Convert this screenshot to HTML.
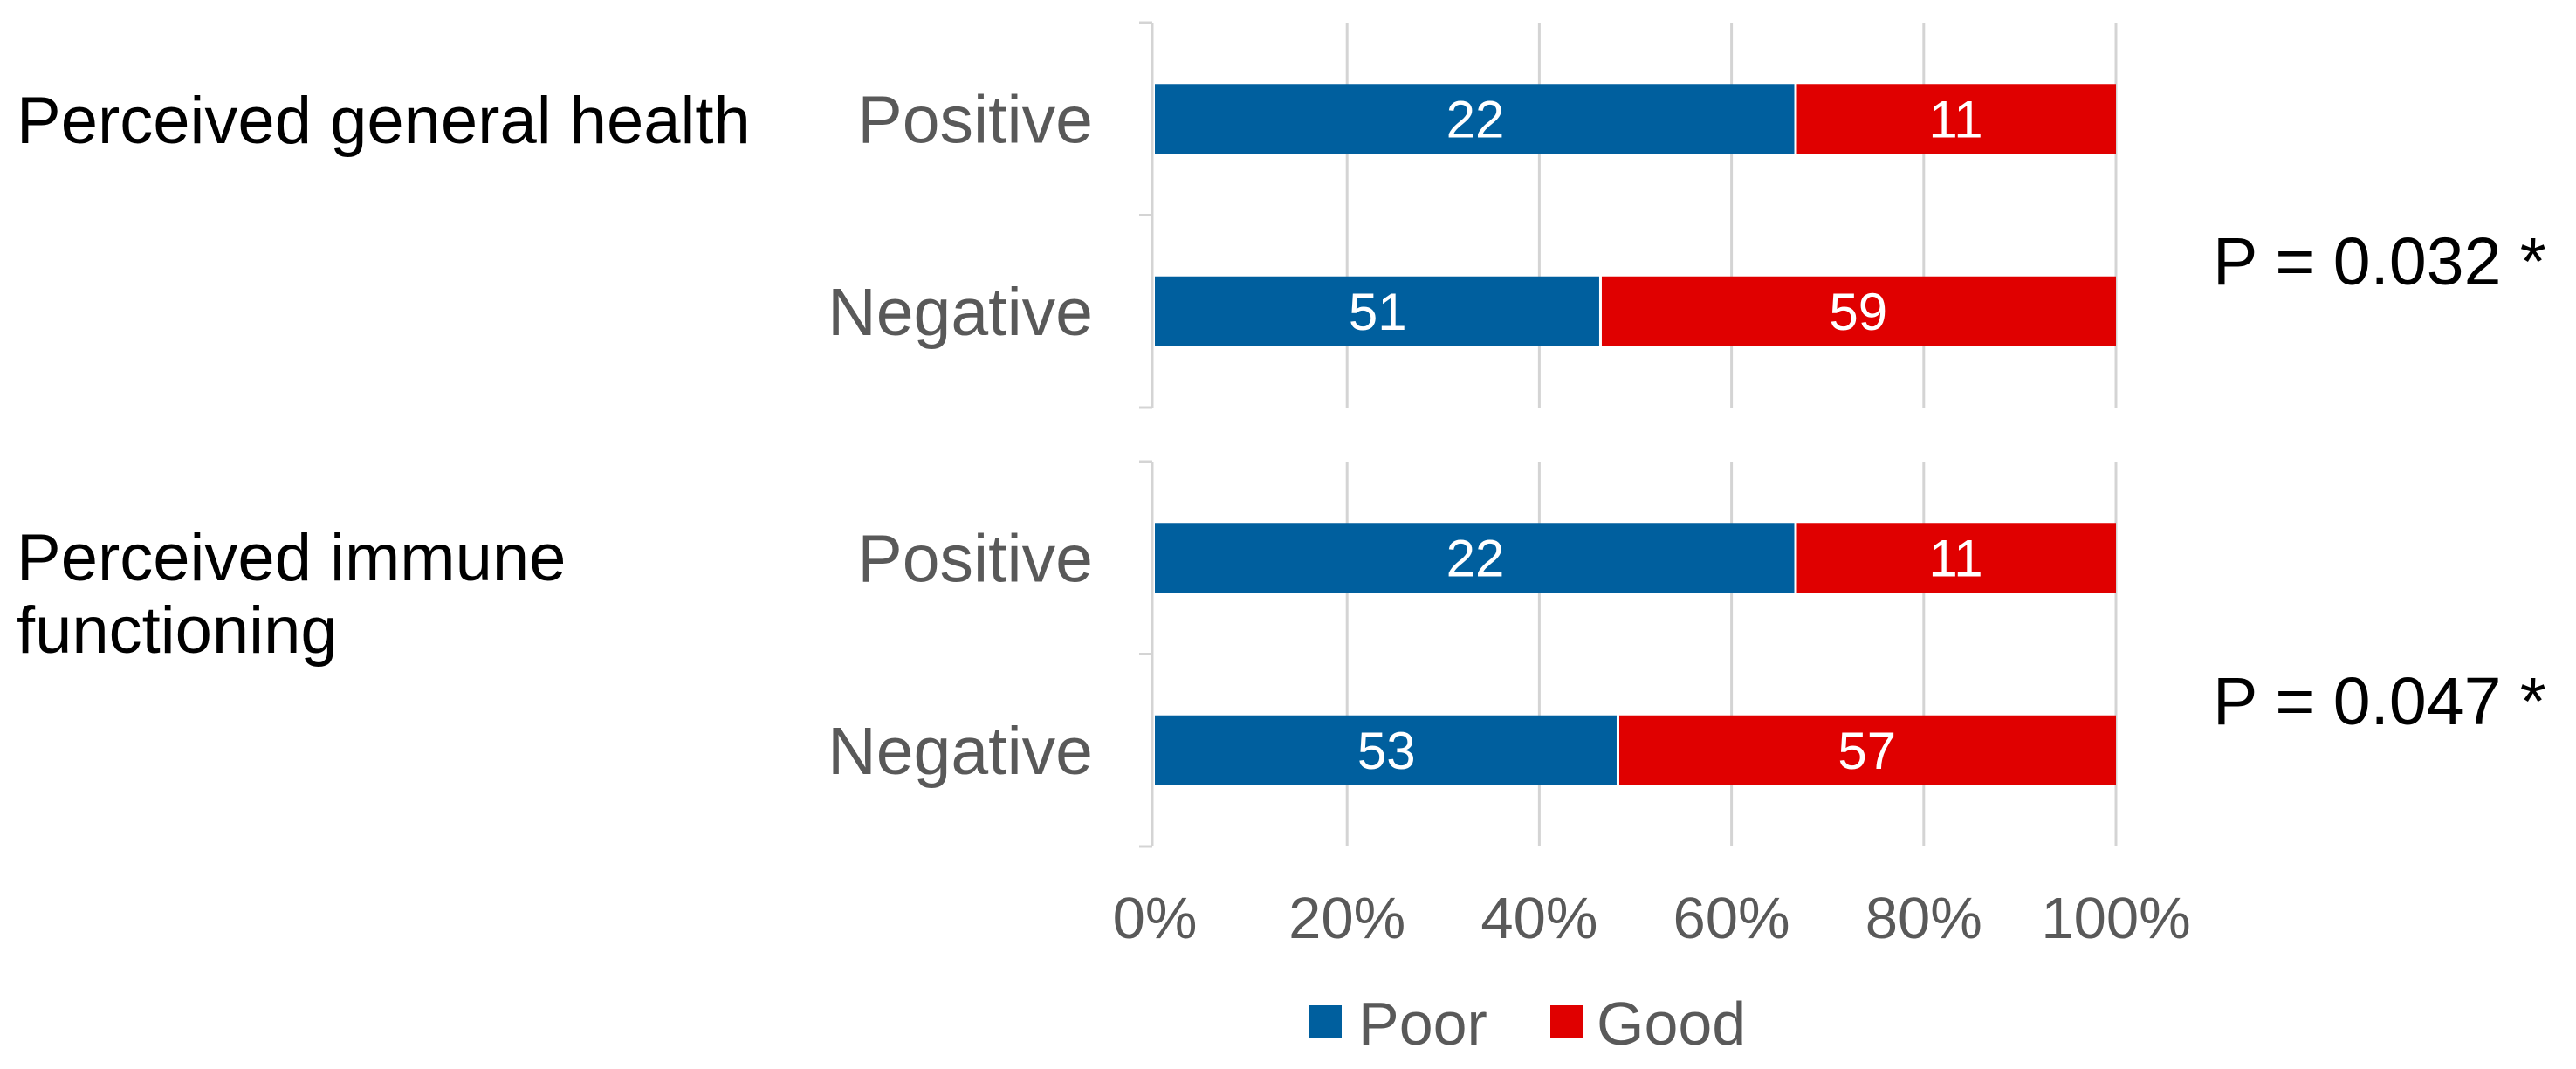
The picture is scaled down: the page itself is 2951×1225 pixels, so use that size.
<!DOCTYPE html>
<html><head><meta charset="utf-8"><style>
html,body{margin:0;padding:0;background:#fff;}
svg{display:block;font-family:"Liberation Sans",Arial,sans-serif;}
</style></head><body>
<svg id="chart" width="2951" height="1225" viewBox="0 0 2951 1225" xmlns="http://www.w3.org/2000/svg">
<g id="g"></g>
</svg>
<script>
const panels = ["Perceived general health", "Perceived immune functioning"];
const categories = ["Positive", "Negative", "Positive", "Negative"];
const poorValues = [22, 51, 22, 53];
const goodValues = [11, 59, 11, 57];
const pValues = ["P = 0.032 *", "P = 0.047 *"];
const xTicks = [0, 20, 40, 60, 80, 100];
const xTickLabels = ["0%", "20%", "40%", "60%", "80%", "100%"];

const NS = "http://www.w3.org/2000/svg";
const g = document.getElementById("g");
const X0 = 1323, X1 = 2424;
const xs = v => X0 + (X1 - X0) * v / 100;
const panelTop = [26, 529], panelH = 441;
const barH = 80;
const catY = i => panelTop[Math.floor(i/2)] + panelH/4 + (i%2) * panelH/2;

function el(tag, attrs, text){
  const e = document.createElementNS(NS, tag);
  for (const k in attrs) e.setAttribute(k, attrs[k]);
  if (text !== undefined) e.textContent = text;
  g.appendChild(e);
  return e;
}

panelTop.forEach((t, p) => {
  xTicks.forEach((v, j) => {
    if (j === 0) return;
    const l = el("line", {x1: xs(v), x2: xs(v), y1: t, y2: t + panelH, stroke: "#d4d4d4", "stroke-width": 3});
    
    
  });
  const ax = el("line", {x1: 1320, x2: 1320, y1: t, y2: t + panelH, stroke: "#d4d4d4", "stroke-width": 3});
  
  
  [0, 0.5, 1].forEach(f => {
    const tk = el("line", {x1: 1305, x2: 1320, y1: t + f * panelH, y2: t + f * panelH, stroke: "#d4d4d4", "stroke-width": 3});
    
    
  });
});

categories.forEach((c, i) => {
  const total = poorValues[i] + goodValues[i];
  const split = poorValues[i] / total * 100;
  const cy = catY(i);
  const b1 = el("rect", {x: xs(0), y: cy - barH/2, width: xs(split) - xs(0) - 1.5, height: barH, fill: "#005f9e"});
  
  
  const b2 = el("rect", {x: xs(split) + 1.5, y: cy - barH/2, width: xs(100) - xs(split) - 1.5, height: barH, fill: "#e00000"});
  
  
  const t1 = el("text", {x: (xs(0) + xs(split)) / 2, y: cy + 21, "font-size": 60, fill: "#fff", "text-anchor": "middle"}, poorValues[i]);
  
  
  const t2 = el("text", {x: (xs(split) + xs(100)) / 2, y: cy + 21, "font-size": 60, fill: "#fff", "text-anchor": "middle"}, goodValues[i]);
  
  
  const cl = el("text", {x: 1252, y: cy + 27, "font-size": 77, fill: "#595959", "text-anchor": "end"}, c);
  
  
});

xTicks.forEach((v, j) => {
  const t = el("text", {x: xs(v), y: 1075, "font-size": 67, fill: "#595959", "text-anchor": "middle"}, xTickLabels[j]);
  
  
});

const pt1 = el("text", {x: 19, y: 164, "font-size": 76, fill: "#000"}, panels[0]);


const words = panels[1].split(" ");
const pt2 = el("text", {x: 19, y: 665, "font-size": 76, fill: "#000"}, words.slice(0, 2).join(" "));


const pt3 = el("text", {x: 19, y: 748, "font-size": 76, fill: "#000"}, words.slice(2).join(" "));



[326, 830].forEach((y, k) => {
  const t = el("text", {x: 2535, y: y, "font-size": 77, fill: "#000"}, pValues[k]);
  
  
});

const ls1 = el("rect", {x: 1500, y: 1152, width: 37, height: 37, fill: "#005f9e"});


const lt1 = el("text", {x: 1556, y: 1197, "font-size": 70, fill: "#595959"}, "Poor");


const ls2 = el("rect", {x: 1776, y: 1152, width: 37, height: 37, fill: "#e00000"});


const lt2 = el("text", {x: 1829, y: 1197, "font-size": 70, fill: "#595959"}, "Good");


</script>
</body></html>
